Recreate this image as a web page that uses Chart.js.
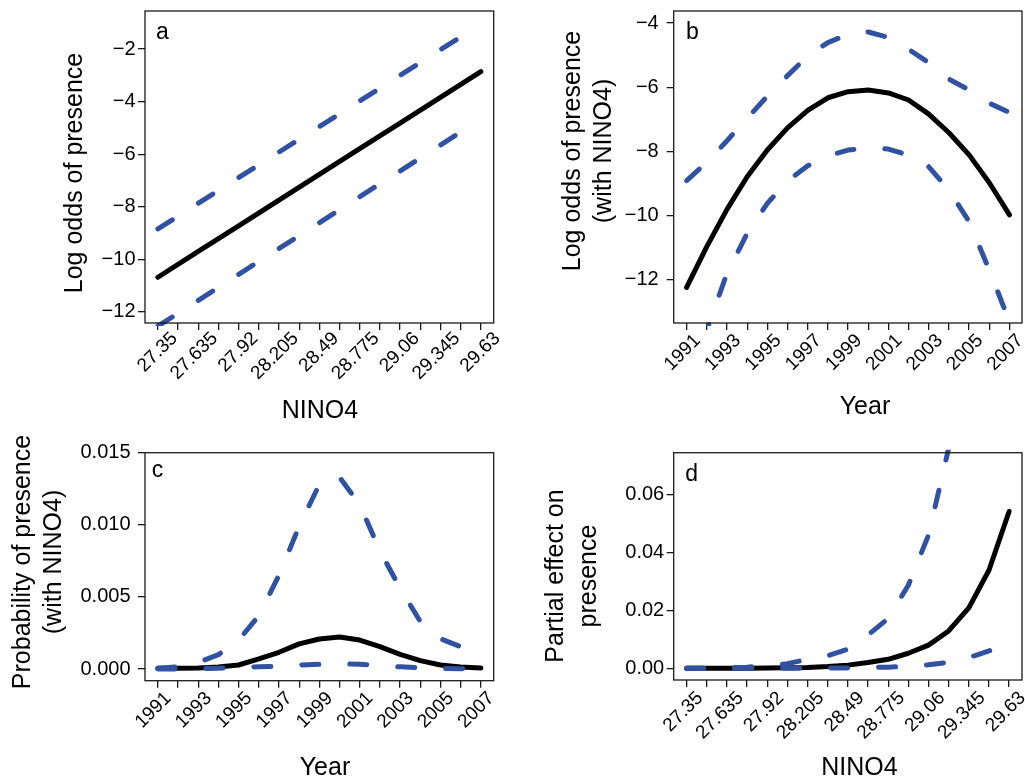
<!DOCTYPE html>
<html>
<head>
<meta charset="utf-8">
<title>Presence vs NINO4 and Year</title>
<script src="https://cdn.jsdelivr.net/npm/chart.js@4.4.1/dist/chart.umd.min.js"></script>
<style>
    body { margin: 0; background: #fff; overflow: hidden; }
    #wrap { position: relative; width: 1025px; height: 782px; overflow: hidden; }
    canvas { position: absolute; }
</style>
</head>
<body>
<div id="wrap">
    <canvas id="panelA" width="512" height="440" style="left:0;top:0"></canvas>
    <canvas id="panelB" width="513" height="440" style="left:512px;top:0"></canvas>
    <canvas id="panelC" width="512" height="380" style="left:0;top:420px"></canvas>
    <canvas id="panelD" width="513" height="380" style="left:512px;top:420px"></canvas>
</div>
<script>
const nino4Labelled = [27.35, 27.635, 27.92, 28.205, 28.49, 28.775, 29.06, 29.345, 29.63];
const nino4Ticks = [27.35, 27.4925, 27.635, 27.7775, 27.92, 28.0625, 28.205, 28.3475, 28.49,
    28.6325, 28.775, 28.9175, 29.06, 29.2025, 29.345, 29.4875, 29.63];
const years = [1991, 1992, 1993, 1994, 1995, 1996, 1997, 1998, 1999, 2000, 2001, 2002, 2003, 2004, 2005, 2006, 2007];

// a: log odds of presence vs NINO4
const aFit = [-10.68, -9.70, -8.73, -7.75, -6.77, -5.79, -4.82, -3.84, -2.86];
const aUpper = [-8.84, -7.87, -6.89, -5.92, -4.95, -3.98, -3.00, -2.03, -1.06];
const aLower = [-12.54, -11.56, -10.57, -9.59, -8.61, -7.62, -6.64, -5.65, -4.67];
const aYTicks = [-12, -10, -8, -6, -4, -2];

// b: log odds of presence (with NINO4) vs year
const bFit = [-12.24, -10.97, -9.81, -8.79, -7.96, -7.27, -6.72, -6.33, -6.14, -6.09, -6.18, -6.40, -6.84, -7.42, -8.11, -8.98, -9.98];
const bUpper = [-8.91, -8.35, -7.67, -6.97, -6.28, -5.64, -5.03, -4.61, -4.35, -4.28, -4.45, -4.82, -5.24, -5.75, -6.09, -6.50, -6.79];
const bLower = [-15.3, -13.57, -11.80, -10.56, -9.62, -8.92, -8.45, -8.14, -7.96, -7.89, -7.93, -8.12, -8.48, -9.21, -10.19, -11.70, -13.31];
const bYTicks = [-12, -10, -8, -6, -4];

// c: probability of presence (with NINO4) vs year
const cFit = [0.00005, 0.00005, 0.00007, 0.00014, 0.00028, 0.0007, 0.00116, 0.00174, 0.00208, 0.00222, 0.00201, 0.00155, 0.00102, 0.00058, 0.00028, 0.00014, 0.00007];
const cUpper = [0.00005, 0.00015, 0.00045, 0.001, 0.002, 0.0037, 0.0065, 0.0099, 0.0128, 0.0133, 0.0114, 0.0082, 0.0056, 0.0033, 0.0021, 0.00155, 0.0012];
const cLower = [0, 0.00001, 0.00003, 0.00006, 0.0001, 0.00015, 0.0002, 0.00027, 0.00033, 0.00036, 0.00033, 0.00025, 0.00015, 0.00008, 0.00004, 0.00002, 0.00001];
const cYTicks = [0, 0.005, 0.01, 0.015];

// d: partial effect on presence vs NINO4
const dFit = [0, 0, 0.00003, 0.00006, 0.0001, 0.0002, 0.0003, 0.0006, 0.0011, 0.002, 0.0031, 0.0052, 0.008, 0.0129, 0.0209, 0.0339, 0.0542];
const dUpper = [0, 0.00005, 0.0002, 0.0004, 0.0009, 0.0016, 0.0031, 0.0043, 0.0066, 0.0115, 0.0172, 0.0287, 0.046, 0.076, 0.125, 0.2, 0.32];
const dLower = [0, 0, 0, 0, 0.00002, 0.00004, 0.00006, 0.0001, 0.00015, 0.00025, 0.0004, 0.0007, 0.0012, 0.0021, 0.0037, 0.006, 0.0088];
const dYTicks = [0, 0.02, 0.04, 0.06];

const FONT = '"Liberation Sans", Arial, Helvetica, sans-serif';
const INK = '#1a1a1a';
const BLUE = '#3152a2';

const minusFmt = v => (v < 0 ? '\u2212' + Math.abs(v) : String(v));

// box round the plot, panel letter and axis titles
const framePlugin = {
    id: 'frame',
    afterDraw(chart, args, opts) {
        const { ctx, chartArea: a } = chart;
        ctx.save();
        ctx.strokeStyle = INK;
        ctx.lineWidth = 1.3;
        ctx.strokeRect(a.left, a.top, a.right - a.left, a.bottom - a.top);
        ctx.fillStyle = '#000';
        ctx.font = '23px ' + FONT;
        ctx.textAlign = 'left';
        ctx.textBaseline = 'alphabetic';
        ctx.fillText(opts.tag, opts.tagX, opts.tagY);
        ctx.font = '25px ' + FONT;
        ctx.textAlign = 'center';
        ctx.textBaseline = 'middle';
        ctx.fillText(opts.xTitle, opts.xTitleX, opts.xTitleY);
        for (let i = 0; i < opts.yTitle.length; i++) {
            ctx.save();
            ctx.translate(opts.yTitleX + i * opts.yTitleGap, opts.yTitleY);
            ctx.rotate(-Math.PI / 2);
            ctx.fillText(opts.yTitle[i], 0, 0);
            ctx.restore();
        }
        ctx.restore();
    }
};

function toPoints(xs, ys) {
    return xs.map((x, i) => ({ x: x, y: ys[i] }));
}

function makePanel(id, p) {
    const line = (data, dashed) => ({
        data: toPoints(p.xs, data),
        borderColor: dashed ? BLUE : '#000',
        borderWidth: 5,
        borderDash: dashed ? [17, 31] : [],
        borderCapStyle: 'round',
        borderJoinStyle: 'round',
        pointRadius: 0,
        tension: 0,
        clip: 3
    });
    new Chart(document.getElementById(id), {
        type: 'line',
        data: {
            datasets: [line(p.upper, true), line(p.lower, true), line(p.fit, false)]
        },
        options: {
            responsive: false,
            animation: false,
            devicePixelRatio: 1,
            layout: { padding: { top: p.padTop, right: p.padRight, left: 0, bottom: 0 } },
            plugins: {
                legend: { display: false },
                tooltip: { enabled: false },
                frame: p.frame
            },
            scales: {
                x: {
                    type: 'linear',
                    min: p.xMin,
                    max: p.xMax,
                    afterBuildTicks: s => { s.ticks = p.xTicks.map(v => ({ value: v })); },
                    afterFit: s => { s.height = p.xBox; s.paddingLeft = 0; s.paddingRight = 0; },
                    ticks: {
                        autoSkip: false,
                        minRotation: 45,
                        maxRotation: 45,
                        padding: p.xPad,
                        labelOffset: p.xLabelOffset,
                        color: '#000',
                        font: { family: FONT, size: 19 },
                        callback: (v, i) => (i % 2 ? '' : String(v))
                    },
                    grid: { drawOnChartArea: false, drawTicks: true, tickLength: 7, color: INK, lineWidth: 1.3 },
                    border: { display: false }
                },
                y: {
                    type: 'linear',
                    min: p.yMin,
                    max: p.yMax,
                    afterBuildTicks: s => { s.ticks = p.yTicks.map(v => ({ value: v })); },
                    afterFit: s => { s.width = p.yBox; s.paddingTop = 0; s.paddingBottom = 0; },
                    ticks: {
                        padding: p.yPad,
                        color: '#000',
                        font: { family: FONT, size: 20 },
                        callback: p.yFmt
                    },
                    grid: { drawOnChartArea: false, drawTicks: true, tickLength: 7, color: INK, lineWidth: 1.3 },
                    border: { display: false }
                }
            }
        },
        plugins: [framePlugin]
    });
}

makePanel('panelA', {
    xs: nino4Labelled, fit: aFit, upper: aUpper, lower: aLower,
    xMin: 27.2588, xMax: 29.7212, xTicks: nino4Ticks,
    yMin: -12.42, yMax: -0.555, yTicks: aYTicks, yFmt: minusFmt,
    padTop: 11, padRight: 18.3, xBox: 117, yBox: 145,
    xPad: -2.6, xLabelOffset: 16.5, yPad: 2.5,
    frame: {
        tag: 'a', tagX: 156, tagY: 39,
        xTitle: 'NINO4', xTitleX: 320, xTitleY: 411,
        yTitle: ['Log odds of presence'], yTitleX: 75, yTitleGap: 31.5, yTitleY: 173
    }
});

makePanel('panelB', {
    xs: years, fit: bFit, upper: bUpper, lower: bLower,
    xMin: 1990.36, xMax: 2007.62, xTicks: years,
    yMin: -13.35, yMax: -3.626, yTicks: bYTicks, yFmt: minusFmt,
    padTop: 11, padRight: 3, xBox: 117, yBox: 161.7,
    xPad: -0.5, xLabelOffset: 10.9, yPad: 8,
    frame: {
        tag: 'b', tagX: 174, tagY: 39.3,
        xTitle: 'Year', xTitleX: 353, xTitleY: 407,
        yTitle: ['Log odds of presence', '(with NINO4)'], yTitleX: 61.3, yTitleGap: 31.3, yTitleY: 151
    }
});

makePanel('panelC', {
    xs: years, fit: cFit, upper: cUpper, lower: cLower,
    xMin: 1990.36, xMax: 2007.64, xTicks: years,
    yMin: -0.00081, yMax: 0.015, yTicks: cYTicks, yFmt: v => v.toFixed(3),
    padTop: 32.7, padRight: 18.3, xBox: 119.3, yBox: 145,
    xPad: -0.5, xLabelOffset: 10.4, yPad: 7.5,
    frame: {
        tag: 'c', tagX: 151.7, tagY: 56.7,
        xTitle: 'Year', xTitleX: 325, xTitleY: 348,
        yTitle: ['Probability of presence', '(with NINO4)'], yTitleX: 23, yTitleGap: 31.6, yTitleY: 142
    }
});

makePanel('panelD', {
    xs: nino4Ticks, fit: dFit, upper: dUpper, lower: dLower,
    xMin: 27.2588, xMax: 29.7212, xTicks: nino4Ticks,
    yMin: -0.00404, yMax: 0.0745, yTicks: dYTicks, yFmt: v => v.toFixed(2),
    padTop: 32.7, padRight: 3, xBox: 120, yBox: 161.7,
    xPad: 0, xLabelOffset: 13.5, yPad: 2.5,
    frame: {
        tag: 'd', tagX: 173.3, tagY: 61,
        xTitle: 'NINO4', xTitleX: 347.5, xTitleY: 348,
        yTitle: ['Partial effect on', 'presence'], yTitleX: 44.3, yTitleGap: 33, yTitleY: 156
    }
});
</script>
</body>
</html>
